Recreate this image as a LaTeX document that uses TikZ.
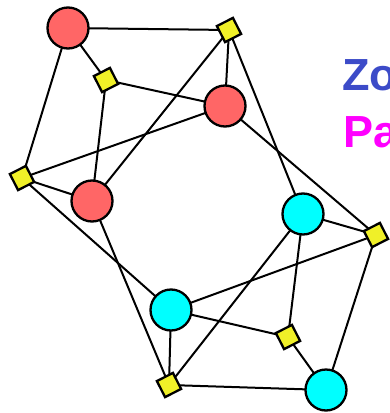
\documentclass[tikz,border=0pt]{standalone}
\usepackage{fontspec}
\setmainfont{Liberation Sans}
\usetikzlibrary{backgrounds}
\definecolor{redfill}{RGB}{255,102,102}
\definecolor{cyanfill}{RGB}{0,255,255}
\definecolor{yelfill}{RGB}{240,240,40}
\definecolor{titleblue}{RGB}{60,75,200}
\definecolor{titlemag}{RGB}{255,0,255}
\tikzset{
  redc/.style={circle,draw=black,line width=2.3pt,fill=redfill,minimum size=41pt,inner sep=0pt},
  cyanc/.style={circle,draw=black,line width=2.3pt,fill=cyanfill,minimum size=41pt,inner sep=0pt},
  yelsq/.style={rectangle,draw=black,line width=2.3pt,fill=yelfill,minimum size=18pt,inner sep=0pt,rotate=27},
  edge/.style={draw=black,line width=2pt},
  titletxt/.style={anchor=base west,inner sep=0pt,font=\bfseries\fontsize{45}{45}\selectfont}
}
\begin{document}
\begin{tikzpicture}[x=1pt,y=-1pt]
\useasboundingbox (0,0) rectangle (389,413);
\node[redc] (R1) at (68,28) {};
\node[redc] (R2) at (225,106) {};
\node[redc] (R3) at (92,201) {};
\node[cyanc] (C1) at (303,214) {};
\node[cyanc] (C2) at (171,310) {};
\node[cyanc] (C3) at (326,390) {};
\node[yelsq] (Y1) at (106,80) {};
\node[yelsq] (Y2) at (229,30) {};
\node[yelsq] (Y3) at (22,178) {};
\node[yelsq] (Y4) at (376,235) {};
\node[yelsq] (Y5) at (288,337) {};
\node[yelsq] (Y6) at (169,385) {};
\begin{scope}[on background layer]
\draw[edge] (R1.center) -- (Y1.center);
\draw[edge] (R1.center) -- (Y2.center);
\draw[edge] (R1.center) -- (Y3.center);
\draw[edge] (Y1.center) -- (R2.center);
\draw[edge] (Y1.center) -- (R3.center);
\draw[edge] (Y2.center) -- (R2.center);
\draw[edge] (Y2.center) -- (R3.center);
\draw[edge] (Y2.center) -- (C1.center);
\draw[edge] (Y3.center) -- (R2.center);
\draw[edge] (Y3.center) -- (R3.center);
\draw[edge] (Y3.center) -- (C2.center);
\draw[edge] (R3.center) -- (Y6.center);
\draw[edge] (R2.center) -- (Y4.center);
\draw[edge] (C1.center) -- (Y4.center);
\draw[edge] (C1.center) -- (Y5.center);
\draw[edge] (C1.center) -- (Y6.center);
\draw[edge] (Y4.center) -- (C2.center);
\draw[edge] (Y4.center) -- (C3.center);
\draw[edge] (C2.center) -- (Y5.center);
\draw[edge] (C2.center) -- (Y6.center);
\draw[edge] (Y5.center) -- (C3.center);
\draw[edge] (Y6.center) -- (C3.center);
\end{scope}
\node[titletxt,text=titleblue] (t1) at (342,90) {Zo};
\node[titletxt,text=titlemag] (t2) at (343,147) {Pa};
\end{tikzpicture}
\end{document}
